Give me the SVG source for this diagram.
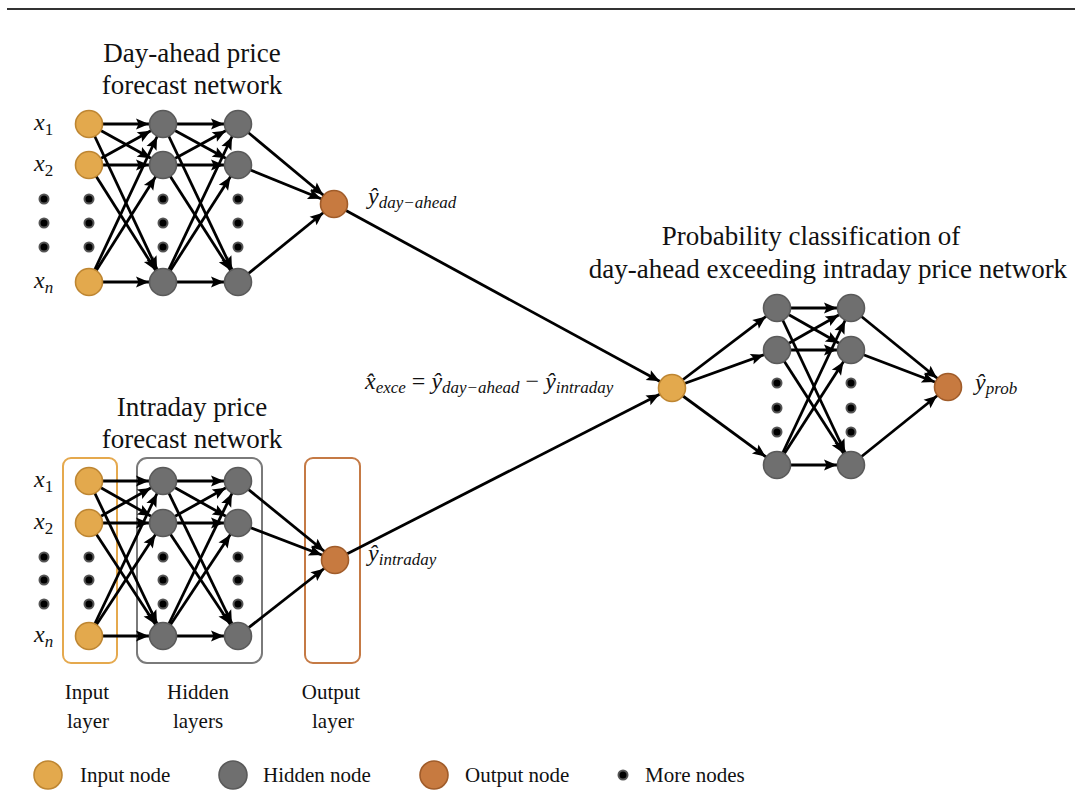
<svg xmlns="http://www.w3.org/2000/svg" width="1075" height="792" viewBox="0 0 1075 792">
<style>
.t{font-family:"Liberation Serif","Times New Roman",serif;font-size:27px;fill:#111;text-anchor:middle}
.l{font-family:"Liberation Serif","Times New Roman",serif;font-size:21px;fill:#111}
.lc{text-anchor:middle}
.m{font-family:"Liberation Serif","DejaVu Serif",serif;font-style:italic;font-size:24px;fill:#111}
.s{font-size:17px}
.up{font-style:normal}
.in{fill:#E3A94D;stroke:#BE8632;stroke-width:1.6}
.hd{fill:#6F6F6F;stroke:#5A5A5A;stroke-width:1.6}
.out{fill:#C77A40;stroke:#A05C2A;stroke-width:1.6}
.dot{fill:#000;stroke:#555;stroke-width:2}
.c line{stroke:#000;stroke-width:2.8;marker-end:url(#ah)}
.box{fill:none;stroke-width:2}
</style>
<defs>
<marker id="ah" markerUnits="userSpaceOnUse" markerWidth="14" markerHeight="11" refX="27" refY="5.5" orient="auto" overflow="visible">
<path d="M0,0 L13,5.5 L0,11 L2.5,5.5 z" fill="#000"/>
</marker>
</defs>
<rect width="1075" height="792" fill="#fff"/>
<line x1="7" y1="9" x2="1075" y2="9" stroke="#333" stroke-width="2"/>

<g id="titles">
<text class="t" x="192" y="62">Day-ahead price</text>
<text class="t" x="192" y="94">forecast network</text>
<text class="t" x="192" y="416">Intraday price</text>
<text class="t" x="192" y="448">forecast network</text>
<text class="t" x="811" y="245">Probability classification of</text>
<text class="t" x="828" y="278">day-ahead exceeding intraday price network</text>
</g>

<g id="layer-boxes">
<rect id="input-layer-box" class="box" x="63" y="458" width="54" height="205" rx="8" stroke="#E5A94E"/>
<rect id="hidden-layers-box" class="box" x="137" y="458" width="125" height="205" rx="10" stroke="#7A7A7A"/>
<rect id="output-layer-box" class="box" x="305" y="458" width="55" height="205" rx="8" stroke="#C57A45"/>
</g>

<g id="connectors" class="c">
<line x1="89" y1="124" x2="163" y2="124"/><line x1="89" y1="124" x2="163" y2="165"/><line x1="89" y1="124" x2="163" y2="282"/>
<line x1="89" y1="165" x2="163" y2="124"/><line x1="89" y1="165" x2="163" y2="165"/><line x1="89" y1="165" x2="163" y2="282"/>
<line x1="89" y1="282" x2="163" y2="124"/><line x1="89" y1="282" x2="163" y2="165"/><line x1="89" y1="282" x2="163" y2="282"/>
<line x1="163" y1="124" x2="238" y2="124"/><line x1="163" y1="124" x2="238" y2="165"/><line x1="163" y1="124" x2="238" y2="282"/>
<line x1="163" y1="165" x2="238" y2="124"/><line x1="163" y1="165" x2="238" y2="165"/><line x1="163" y1="165" x2="238" y2="282"/>
<line x1="163" y1="282" x2="238" y2="124"/><line x1="163" y1="282" x2="238" y2="165"/><line x1="163" y1="282" x2="238" y2="282"/>
<line x1="238" y1="124" x2="334" y2="204"/><line x1="238" y1="165" x2="334" y2="204"/><line x1="238" y1="282" x2="334" y2="204"/>
<line x1="89" y1="481" x2="163" y2="481"/><line x1="89" y1="481" x2="163" y2="523"/><line x1="89" y1="481" x2="163" y2="636"/>
<line x1="89" y1="523" x2="163" y2="481"/><line x1="89" y1="523" x2="163" y2="523"/><line x1="89" y1="523" x2="163" y2="636"/>
<line x1="89" y1="636" x2="163" y2="481"/><line x1="89" y1="636" x2="163" y2="523"/><line x1="89" y1="636" x2="163" y2="636"/>
<line x1="163" y1="481" x2="238" y2="481"/><line x1="163" y1="481" x2="238" y2="523"/><line x1="163" y1="481" x2="238" y2="636"/>
<line x1="163" y1="523" x2="238" y2="481"/><line x1="163" y1="523" x2="238" y2="523"/><line x1="163" y1="523" x2="238" y2="636"/>
<line x1="163" y1="636" x2="238" y2="481"/><line x1="163" y1="636" x2="238" y2="523"/><line x1="163" y1="636" x2="238" y2="636"/>
<line x1="238" y1="481" x2="335" y2="560"/><line x1="238" y1="523" x2="335" y2="560"/><line x1="238" y1="636" x2="335" y2="560"/>
<line x1="334" y1="204" x2="672" y2="388"/>
<line x1="335" y1="560" x2="672" y2="388"/>
<line x1="672" y1="388" x2="777" y2="308"/><line x1="672" y1="388" x2="777" y2="350"/><line x1="672" y1="388" x2="777" y2="465"/>
<line x1="777" y1="308" x2="851" y2="308"/><line x1="777" y1="308" x2="851" y2="350"/><line x1="777" y1="308" x2="851" y2="465"/>
<line x1="777" y1="350" x2="851" y2="308"/><line x1="777" y1="350" x2="851" y2="350"/><line x1="777" y1="350" x2="851" y2="465"/>
<line x1="777" y1="465" x2="851" y2="308"/><line x1="777" y1="465" x2="851" y2="350"/><line x1="777" y1="465" x2="851" y2="465"/>
<line x1="851" y1="308" x2="948" y2="387"/><line x1="851" y1="350" x2="948" y2="387"/><line x1="851" y1="465" x2="948" y2="387"/>
</g>

<g id="day-ahead-network">
<g id="da-input"><circle class="in" cx="89" cy="124" r="13.5"/><circle class="in" cx="89" cy="165" r="13.5"/><circle class="in" cx="89" cy="282" r="13.5"/></g>
<g id="da-hidden1"><circle class="hd" cx="163" cy="124" r="13.5"/><circle class="hd" cx="163" cy="165" r="13.5"/><circle class="hd" cx="163" cy="282" r="13.5"/></g>
<g id="da-hidden2"><circle class="hd" cx="238" cy="124" r="13.5"/><circle class="hd" cx="238" cy="165" r="13.5"/><circle class="hd" cx="238" cy="282" r="13.5"/></g>
<g id="da-output"><circle class="out" cx="334" cy="204" r="13.5"/></g>
<g id="da-dots">
<circle class="dot" cx="44" cy="199" r="4.5"/><circle class="dot" cx="44" cy="223" r="4.5"/><circle class="dot" cx="44" cy="247" r="4.5"/>
<circle class="dot" cx="89" cy="199" r="4.5"/><circle class="dot" cx="89" cy="223" r="4.5"/><circle class="dot" cx="89" cy="247" r="4.5"/>
<circle class="dot" cx="163" cy="199" r="4.5"/><circle class="dot" cx="163" cy="223" r="4.5"/><circle class="dot" cx="163" cy="247" r="4.5"/>
<circle class="dot" cx="238" cy="199" r="4.5"/><circle class="dot" cx="238" cy="223" r="4.5"/><circle class="dot" cx="238" cy="247" r="4.5"/>
</g>
<g id="da-labels">
<text class="m" x="34" y="130">x<tspan class="s up" y="135">1</tspan></text>
<text class="m" x="34" y="171">x<tspan class="s up" y="176">2</tspan></text>
<text class="m" x="34" y="288">x<tspan class="s" y="293">n</tspan></text>
<text class="m" x="368" y="204">ŷ<tspan class="s" y="208">day−ahead</tspan></text>
</g>
</g>

<g id="intraday-network">
<g id="id-input"><circle class="in" cx="89" cy="481" r="13.5"/><circle class="in" cx="89" cy="523" r="13.5"/><circle class="in" cx="89" cy="636" r="13.5"/></g>
<g id="id-hidden1"><circle class="hd" cx="163" cy="481" r="13.5"/><circle class="hd" cx="163" cy="523" r="13.5"/><circle class="hd" cx="163" cy="636" r="13.5"/></g>
<g id="id-hidden2"><circle class="hd" cx="238" cy="481" r="13.5"/><circle class="hd" cx="238" cy="523" r="13.5"/><circle class="hd" cx="238" cy="636" r="13.5"/></g>
<g id="id-output"><circle class="out" cx="335" cy="560" r="13.5"/></g>
<g id="id-dots">
<circle class="dot" cx="44" cy="557" r="4.5"/><circle class="dot" cx="44" cy="580" r="4.5"/><circle class="dot" cx="44" cy="604" r="4.5"/>
<circle class="dot" cx="89" cy="557" r="4.5"/><circle class="dot" cx="89" cy="580" r="4.5"/><circle class="dot" cx="89" cy="604" r="4.5"/>
<circle class="dot" cx="163" cy="557" r="4.5"/><circle class="dot" cx="163" cy="580" r="4.5"/><circle class="dot" cx="163" cy="604" r="4.5"/>
<circle class="dot" cx="238" cy="557" r="4.5"/><circle class="dot" cx="238" cy="580" r="4.5"/><circle class="dot" cx="238" cy="604" r="4.5"/>
</g>
<g id="id-labels">
<text class="m" x="34" y="487">x<tspan class="s up" y="492">1</tspan></text>
<text class="m" x="34" y="529">x<tspan class="s up" y="534">2</tspan></text>
<text class="m" x="34" y="642">x<tspan class="s" y="647">n</tspan></text>
<text class="m" x="368" y="561">ŷ<tspan class="s" y="565">intraday</tspan></text>
</g>
</g>

<g id="classifier-network">
<g id="cl-input"><circle class="in" cx="672" cy="388" r="13.5"/></g>
<g id="cl-hidden1"><circle class="hd" cx="777" cy="308" r="13.5"/><circle class="hd" cx="777" cy="350" r="13.5"/><circle class="hd" cx="777" cy="465" r="13.5"/></g>
<g id="cl-hidden2"><circle class="hd" cx="851" cy="308" r="13.5"/><circle class="hd" cx="851" cy="350" r="13.5"/><circle class="hd" cx="851" cy="465" r="13.5"/></g>
<g id="cl-output"><circle class="out" cx="948" cy="387" r="13.5"/></g>
<g id="cl-dots">
<circle class="dot" cx="777" cy="383" r="4.5"/><circle class="dot" cx="777" cy="408" r="4.5"/><circle class="dot" cx="777" cy="432" r="4.5"/>
<circle class="dot" cx="851" cy="383" r="4.5"/><circle class="dot" cx="851" cy="408" r="4.5"/><circle class="dot" cx="851" cy="432" r="4.5"/>
</g>
<g id="cl-labels">
<text class="m" x="365" y="389">x&#x302;<tspan class="s" y="393">exce</tspan><tspan class="up" y="389"> = </tspan>ŷ<tspan class="s" y="393">day−ahead</tspan><tspan class="up" y="389"> − </tspan>ŷ<tspan class="s" y="393">intraday</tspan></text>
<text class="m" x="975" y="390">ŷ<tspan class="s" y="394">prob</tspan></text>
</g>
</g>

<g id="layer-labels">
<text class="l lc" x="87" y="699">Input</text>
<text class="l lc" x="88" y="728">layer</text>
<text class="l lc" x="198" y="699">Hidden</text>
<text class="l lc" x="198" y="728">layers</text>
<text class="l lc" x="331" y="699">Output</text>
<text class="l lc" x="333" y="728">layer</text>
</g>

<g id="legend">
<g id="legend-input"><circle class="in" cx="48" cy="775" r="14"/><text class="l" x="80" y="782">Input node</text></g>
<g id="legend-hidden"><circle class="hd" cx="233" cy="775" r="14"/><text class="l" x="263" y="782">Hidden node</text></g>
<g id="legend-output"><circle class="out" cx="434" cy="775" r="14"/><text class="l" x="465" y="782">Output node</text></g>
<g id="legend-more"><circle class="dot" cx="623" cy="775" r="4.5"/><text class="l" x="645" y="782">More nodes</text></g>
</g>
</svg>
